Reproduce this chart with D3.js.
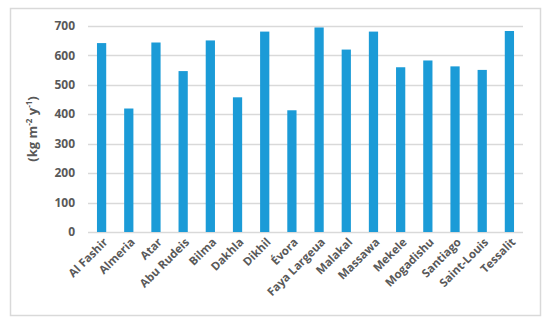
<!DOCTYPE html>
<html><head><meta charset="utf-8">
<script src="https://cdn.jsdelivr.net/npm/d3@7"></script>
<style>body{margin:0;background:#fff}</style>
</head><body>
<svg id="c" width="550" height="327"></svg>
<script>
const categories = ["Al Fashir","Almeria","Atar","Abu Rudeis","Bilma","Dakhla","Dikhil","Évora","Faya Largeua","Malakal","Massawa","Mekele","Mogadishu","Santiago","Saint-Louis","Tessalit"];
const values = [641, 419, 643, 546, 650, 457, 680, 413, 694, 619, 680, 559, 582, 562, 550, 682];
const yTicks = [0,100,200,300,400,500,600,700];
const yTitleParts = [["(kg m",false],["-2",true],[" y",false],["-1",true],[")",false]];

(function(){
const svg = d3.select("#c");
svg.append("rect").attr("x",10.5).attr("y",8.5).attr("width",530).attr("height",307)
  .attr("fill","#fff").attr("stroke","#d9d9d9").attr("stroke-width",1.5);

const pLeft = 88, pRight = 523, pTop = 25.7, pBottom = 232;
const x = d3.scaleBand().domain(categories).range([pLeft,pRight]).paddingInner(0.66).paddingOuter(0.33);
const y = d3.scaleLinear().domain([0,700]).range([pBottom,pTop]);

svg.append("g").selectAll("line").data(yTicks).join("line")
  .attr("x1",pLeft).attr("x2",pRight).attr("y1",d=>Math.round(y(d))+0.5).attr("y2",d=>Math.round(y(d))+0.5)
  .attr("stroke","#d9d9d9").attr("stroke-width",1.3);

svg.append("g").selectAll("rect").data(values).join("rect")
  .attr("x",(d,i)=>x(categories[i])).attr("width",x.bandwidth())
  .attr("y",d=>y(d)).attr("height",d=>pBottom-y(d))
  .attr("fill","#1b9bd7");

const yAxis = d3.axisLeft(y).tickValues(yTicks).tickSize(0).tickPadding(0);
const ga = svg.append("g").attr("transform",`translate(75,0)`).call(yAxis);
ga.select(".domain").remove();
ga.selectAll("text").attr("font-family","'Open Sans', sans-serif").attr("font-weight",700)
  .attr("font-size",12).attr("fill","#595959");

const xAxis = d3.axisBottom(x).tickSize(0).tickPadding(0);
const gx = svg.append("g").attr("transform",`translate(0,${pBottom})`).call(xAxis);
gx.select(".domain").remove();
gx.selectAll("text").attr("font-family","'Open Sans', sans-serif").attr("font-weight",700)
  .attr("font-size",11.5).attr("fill","#595959")
  .attr("text-anchor","end").attr("dy","0.35em")
  .attr("transform","translate(4,8) rotate(-45)");

const t = svg.append("text").attr("transform","translate(32,129) rotate(-90)")
  .attr("text-anchor","middle").attr("dy","0.35em")
  .attr("font-family","'Open Sans', sans-serif").attr("font-weight",700)
  .attr("font-size",13).attr("fill","#595959");
yTitleParts.forEach(([s,sup])=>{
  const ts = t.append("tspan").text(s);
  if(sup) ts.attr("font-size",8).attr("baseline-shift","super");
});
})();
</script>
</body></html>
